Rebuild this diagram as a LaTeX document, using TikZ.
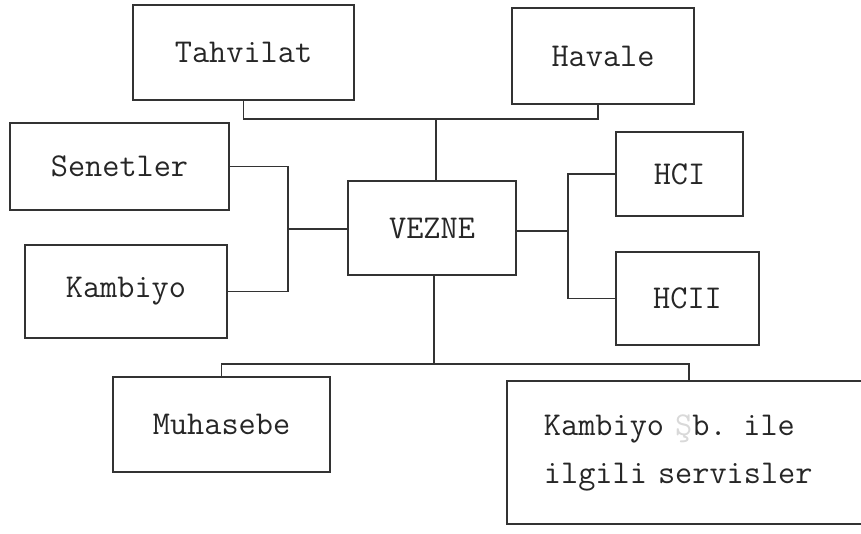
\documentclass[tikz,border=0pt]{standalone}
\usepackage{tikz}

\begin{document}
\begin{tikzpicture}[x=0.75pt,y=-0.75pt,
    box/.style={draw=black!80, line width=1.4pt, inner sep=0pt, text=black!85,
      font=\fontsize{25}{36}\selectfont\ttfamily},
    link/.style={draw=black!80, line width=1.4pt}]
      \useasboundingbox (0,0) rectangle (861,534);
      \node [box, minimum width=165.75pt, minimum height=71.25pt] (tv) at (243.5,52.5) {Tahvilat};
      \node [box, minimum width=136.5pt, minimum height=72pt] (hv) at (603,56) {Havale};
      \node [box, minimum width=164.25pt, minimum height=65.25pt] (sn) at (119.5,166.5) {Senetler};
      \node [box, minimum width=151.5pt, minimum height=69.75pt] (kb) at (126,291.5) {Kambiyo};
      \node [box, minimum width=126pt, minimum height=70.5pt] (vz) at (432,228) {VEZNE};
      \node [box, minimum width=95.25pt, minimum height=63pt] (hc1) at (679.5,174) {HCI};
      \node [box, minimum width=107.25pt, minimum height=69.75pt] (hc2) at (687.5,298.5) {HCII};
      \node [box, minimum width=162.75pt, minimum height=71.25pt] (mh) at (221.5,424.5) {Muhasebe};
      \node [box, anchor=west, minimum height=107.25pt, text width=217.5pt, inner xsep=27.75pt,
        align=left] (ks) at (506,452.5) {Kambiyo {\color{black!15}Ş}b. ile\\ilgili servisler};
      \coordinate (b1) at (436,119);
      \coordinate (b2) at (434,364);
      \coordinate (m1) at (288,229);
      \coordinate (m2) at (568,231);
      \draw [link] (tv.south) |- (b1) -| ([xshift=-3.75pt]hv.south);
      \draw [link] (b1) -- (b1 |- vz.north);
      \draw [link] (sn.east) -| (m1) |- (kb.east);
      \draw [link] (m1) -- (m1 -| vz.west);
      \draw [link] (hc1.west) -| (m2) |- (hc2.west);
      \draw [link] (m2) -- (m2 -| vz.east);
      \draw [link] (b2 |- vz.south) -- (b2);
      \draw [link] (mh.north) |- (b2) -| (ks.north);
    \end{tikzpicture}
\end{document}
